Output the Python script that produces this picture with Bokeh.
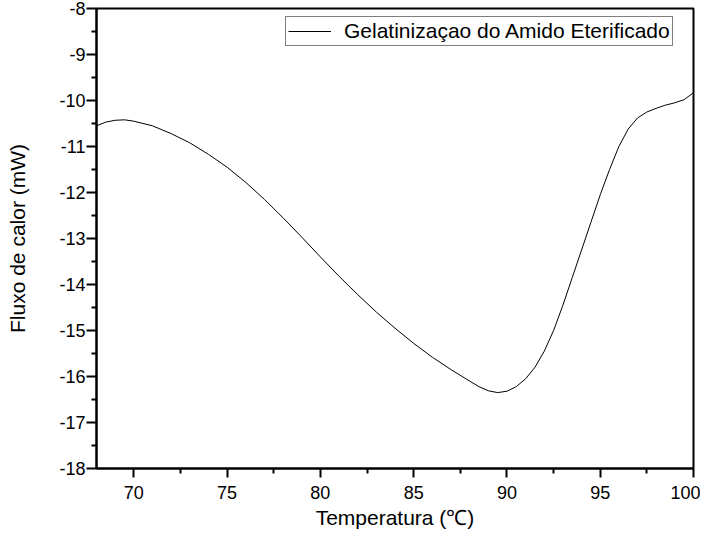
from bokeh.plotting import figure
from bokeh.models import FixedTicker, Legend, LegendItem, Range1d
from bokeh.embed import file_html
from bokeh.resources import INLINE

# Data
temperatura = [68.0, 68.5, 69.0, 69.5, 70.0, 71.0, 72.0, 73.0, 74.0, 75.0, 76.0, 77.0,
               78.0, 79.0, 80.0, 81.0, 82.0, 83.0, 84.0, 85.0, 86.0, 87.0, 88.0,
               88.5, 89.0, 89.5, 90.0, 90.5, 91.0, 91.5, 92.0, 92.5, 93.0, 93.5,
               94.0, 94.5, 95.0, 95.5, 96.0, 96.5, 97.0, 97.5, 98.0, 98.5, 99.0,
               99.5, 100.0]
fluxo = [-10.55, -10.47, -10.43, -10.42, -10.45, -10.55, -10.72, -10.92, -11.17, -11.45,
         -11.78, -12.15, -12.55, -12.97, -13.40, -13.82, -14.22, -14.60, -14.95, -15.28,
         -15.58, -15.85, -16.10, -16.22, -16.31, -16.35, -16.32, -16.22, -16.05, -15.80,
         -15.45, -15.00, -14.45, -13.85, -13.25, -12.65, -12.05, -11.50, -11.00, -10.62,
         -10.38, -10.25, -10.17, -10.10, -10.05, -9.98, -9.83]

x_ticks = [70, 75, 80, 85, 90, 95, 100]
x_minor = [67.5, 72.5, 77.5, 82.5, 87.5, 92.5, 97.5]
y_ticks = [-18, -17, -16, -15, -14, -13, -12, -11, -10, -9, -8]
y_minor = [-17.5, -16.5, -15.5, -14.5, -13.5, -12.5, -11.5, -10.5, -9.5, -8.5]
serie = "Gelatinizaçao do Amido Eterificado"

FONT = "Liberation Sans"

p = figure(width=700, height=542, output_backend="svg", toolbar_location=None,
           x_range=Range1d(68, 100), y_range=Range1d(-18, -8),
           min_border_left=96, min_border_right=7, min_border_top=8, min_border_bottom=74)

r = p.line(temperatura, fluxo, line_color="black", line_width=1)

p.grid.visible = False
p.outline_line_color = "black"
p.outline_line_width = 2
p.background_fill_color = "white"
p.border_fill_color = "white"

xa = p.xaxis[0]
xa.ticker = FixedTicker(ticks=x_ticks, minor_ticks=x_minor)
xa.axis_label = "Temperatura (\u2103)"
ya = p.yaxis[0]
ya.ticker = FixedTicker(ticks=y_ticks, minor_ticks=y_minor)
ya.axis_label = "Fluxo de calor (mW)"
ya.major_label_overrides = {t: str(t) for t in y_ticks}

for ax in (xa, ya):
    ax.axis_line_width = 2
    ax.axis_line_color = "black"
    ax.major_tick_line_width = 2
    ax.minor_tick_line_width = 2
    ax.major_tick_in = 0
    ax.minor_tick_in = 0
    ax.major_tick_out = 9
    ax.minor_tick_out = 5
    ax.major_label_text_font = FONT
    ax.major_label_text_font_size = "18px"
    ax.major_label_text_color = "black"
    ax.axis_label_text_font = FONT
    ax.axis_label_text_font_size = "21px"
    ax.axis_label_text_font_style = "normal"
    ax.axis_label_text_color = "black"

ya.major_tick_out = 10
xa.major_label_standoff = 8
xa.axis_label_standoff = 4
ya.major_label_standoff = 1
ya.axis_label_standoff = 27

legend = Legend(items=[LegendItem(label=serie, renderers=[r])],
                location=(189, 422))
legend.label_text_font = FONT
legend.label_text_font_size = "21px"
legend.label_text_color = "black"
legend.glyph_width = 43
legend.label_standoff = 13
legend.padding = 2
legend.margin = 0
legend.spacing = 0
legend.border_line_color = "black"
legend.border_line_width = 1
legend.background_fill_alpha = 1
p.add_layout(legend, "center")

open("out.html", "w").write(file_html(p, INLINE))
